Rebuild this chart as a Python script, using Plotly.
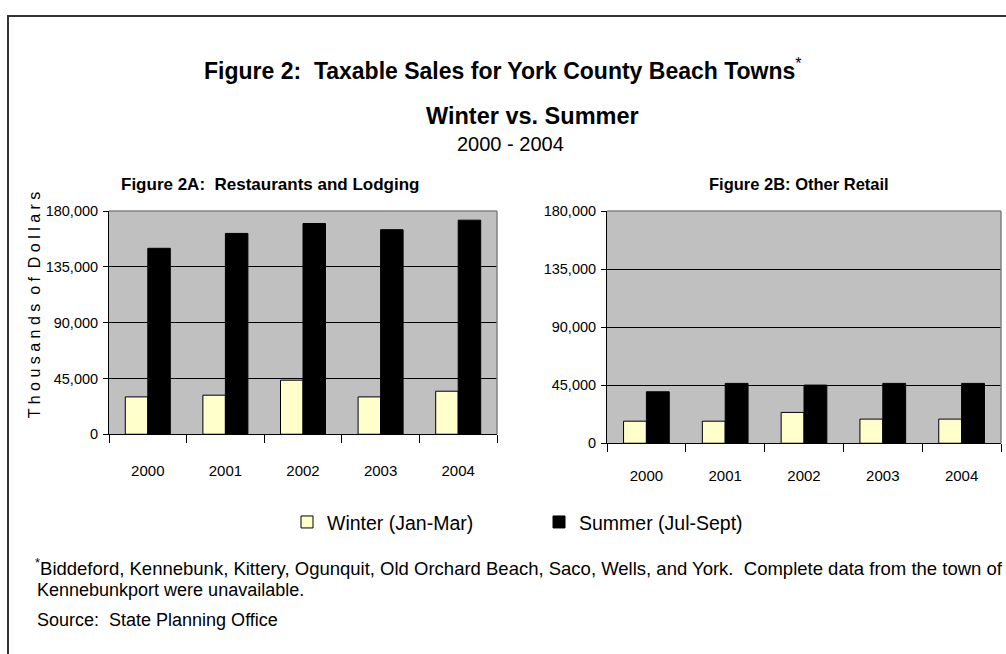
import plotly.graph_objects as go

W, H = 1006, 654

years = ["2000", "2001", "2002", "2003", "2004"]
rest_winter = [30100, 31500, 43600, 30100, 34700]
rest_summer = [150000, 162000, 170000, 165000, 172700]
retail_winter = [17100, 17100, 23900, 18700, 18700]
retail_summer = [39900, 46400, 45100, 46400, 46400]
y_ticks = [0, 45000, 90000, 135000, 180000]
y_ticktext = ["0", "45,000", "90,000", "135,000", "180,000"]

ARIAL = "Liberation Sans, Arial, sans-serif"
WINTER_COLOR = "#FFFFCC"
SUMMER_COLOR = "#000000"
PLOT_BG = "#C0C0C0"


def px(x):
    return x / W


def py(y):
    # vertical page position (reference pixels) -> paper fraction
    y = (y - 9) / 0.975
    return 1 - y / H


fig = go.Figure()

fig.add_trace(go.Bar(x=years, y=rest_winter, name="Winter (Jan-Mar)",
                     marker=dict(color=WINTER_COLOR, line=dict(color="black", width=1)),
                     xaxis="x", yaxis="y", legend="legend"))
fig.add_trace(go.Bar(x=years, y=rest_summer, name="Summer (Jul-Sept)",
                     marker=dict(color=SUMMER_COLOR, line=dict(color="black", width=1)),
                     xaxis="x", yaxis="y", legend="legend2"))
fig.add_trace(go.Bar(x=years, y=retail_winter, name="Winter (Jan-Mar)",
                     marker=dict(color=WINTER_COLOR, line=dict(color="black", width=1)),
                     xaxis="x2", yaxis="y2", showlegend=False))
fig.add_trace(go.Bar(x=years, y=retail_summer, name="Summer (Jul-Sept)",
                     marker=dict(color=SUMMER_COLOR, line=dict(color="black", width=1)),
                     xaxis="x2", yaxis="y2", showlegend=False))

xcommon = dict(type="category", showline=True, linecolor="black", linewidth=1,
               ticks="outside", tickson="boundaries", ticklen=8, tickcolor="black",
               showgrid=False, tickfont=dict(family=ARIAL, size=15, color="black"))
ycommon = dict(range=[0, 180000], tickvals=y_ticks, ticktext=y_ticktext,
               showline=True, linecolor="black", linewidth=1,
               ticks="outside", ticklen=5, tickcolor="black",
               showgrid=True, gridcolor="black", gridwidth=1, zeroline=False,
               tickfont=dict(family=ARIAL, size=14.5, color="black"),
               ticklabelstandoff=2)

legend_common = dict(orientation="h", yanchor="middle", xanchor="left",
                     font=dict(family=ARIAL, size=19.5, color="black"),
                     bgcolor="rgba(0,0,0,0)", borderwidth=0)

fig.update_layout(
    width=W, height=H,
    margin=dict(l=0, r=0, t=0, b=0),
    paper_bgcolor="white",
    plot_bgcolor=PLOT_BG,
    barmode="group", bargap=0.42, bargroupgap=0,
    xaxis=dict(domain=[px(109), px(497)], anchor="y", ticklabelstandoff=23, **xcommon),
    yaxis=dict(domain=[py(435), py(212)], anchor="x", **ycommon),
    xaxis2=dict(domain=[px(607), px(1001)], anchor="y2", ticklabelstandoff=19, **xcommon),
    yaxis2=dict(domain=[py(444), py(212)], anchor="x2", **ycommon),
    showlegend=True,
    legend=dict(x=px(287), y=py(523), **legend_common),
    legend2=dict(x=px(539), y=py(523), **legend_common),
    font=dict(family=ARIAL, color="black"),
)

# Outer border (right and bottom edges lie outside the page)
fig.add_shape(type="rect", xref="paper", yref="paper",
              x0=px(8), x1=px(1030), y0=py(720), y1=py(17),
              line=dict(color="#333333", width=2), fillcolor="rgba(0,0,0,0)")

# Gray top/right plot borders
for xa, ya in [("x", "y"), ("x2", "y2")]:
    fig.add_shape(type="line", xref=f"{xa} domain", yref=f"{ya} domain",
                  x0=0, x1=1, y0=1, y1=1, line=dict(color="#808080", width=1.5))
    fig.add_shape(type="line", xref=f"{xa} domain", yref=f"{ya} domain",
                  x0=1, x1=1, y0=0, y1=1, line=dict(color="#808080", width=1.5))

annotations = [
    dict(text="<b>Figure 2:  Taxable Sales for York County Beach Towns</b><sup>*</sup>",
         x=px(503), y=py(70), font=dict(size=23)),
    dict(text="<b>Winter vs. Summer</b>", x=px(532), y=py(117), font=dict(size=23.5)),
    dict(text="2000 - 2004", x=px(510), y=py(145), font=dict(size=20)),
    dict(text="<b>Figure 2A:  Restaurants and Lodging</b>", x=px(270), y=py(185), font=dict(size=17)),
    dict(text="<b>Figure 2B: Other Retail</b>", x=px(799), y=py(185), font=dict(size=16.5)),
    dict(text="T h o u s a n d s  o f  D o l l a r s", x=px(34), y=py(306), textangle=-90,
         font=dict(size=16)),
    dict(text="<sup>*</sup>Biddeford, Kennebunk, Kittery, Ogunquit, Old Orchard Beach, Saco, Wells, and York.  Complete data from the town of",
         x=px(33), y=py(568), xanchor="left", font=dict(size=18.5)),
    dict(text="Kennebunkport were unavailable.", x=px(35), y=py(591), xanchor="left", font=dict(size=18)),
    dict(text="Source:  State Planning Office", x=px(35), y=py(621), xanchor="left", font=dict(size=18)),
]
for a in annotations:
    a.setdefault("xanchor", "center")
    a.update(xref="paper", yref="paper", showarrow=False, yanchor="middle")
    f = a.get("font", {})
    f.setdefault("family", ARIAL)
    f.setdefault("color", "black")
    a["font"] = f
    fig.add_annotation(**a)

fig.write_html(
    "out.html",
    config={"displayModeBar": False},
    post_script=(
        "var g=document.getElementById('{plot_id}');"
        "g.style.position='fixed';g.style.left='0px';g.style.top='0px';"
        "document.body.style.margin='0';document.body.style.overflow='hidden';"
        "document.documentElement.style.overflow='hidden';"
    ),
)
